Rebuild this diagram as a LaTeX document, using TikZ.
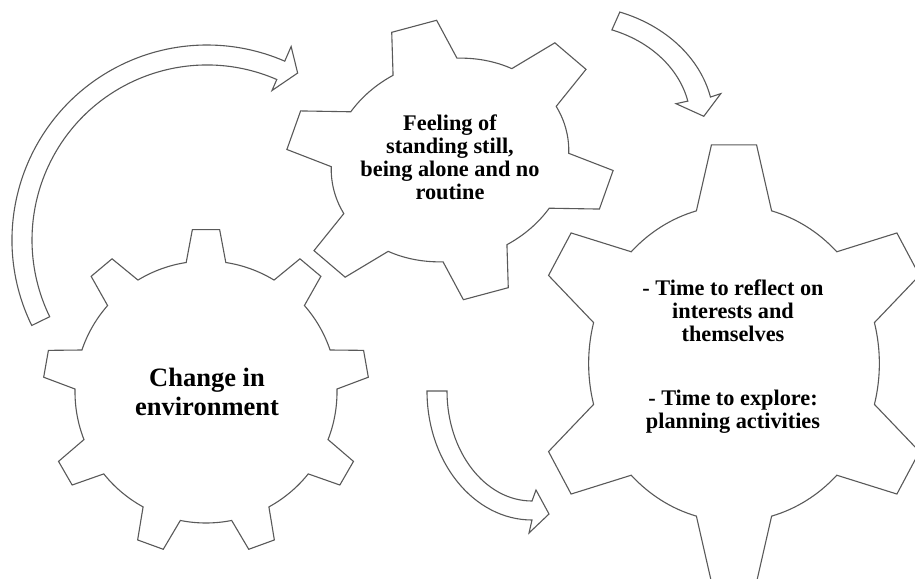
\documentclass[tikz,border=0pt]{standalone}
\usepackage{fontspec}
\setmainfont{Liberation Serif}
\usepackage{tikz}

% cog outline: teeth, root radius, tip radius, half-angle at root, half-angle at tip
\newcommand{\cog}[5]{
  ({90-#4}:#2)
  \foreach \tooth [evaluate=\tooth as \ang using 90+(\tooth-1)*360/#1] in {1,...,#1} {
    -- ({\ang-#5}:#3) -- ({\ang+#5}:#3) -- ({\ang+#4}:#2)
    arc[start angle={\ang+#4}, end angle={\ang+360/#1-#4}, radius=#2]
  } -- cycle
}

\begin{document}
\begin{tikzpicture}[
    x=1pt, y=1pt,
    gearline/.style={draw=black!65, line width=1.1pt, fill=white},
    bendarrow/.style={draw=black!65, line width=1.1pt, fill=white},
    gearlabel/.style={align=center, inner sep=0pt,
      font=\bfseries\fontsize{22.3}{23}\selectfont}
]
\useasboundingbox (0,0) rectangle (915,578);
\clip (0,0) rectangle (915,578);

% gears
\draw[gearline, shift={(206,186)}] \cog{9}{131}{163}{8.7}{4.8};
\draw[gearline, shift={(450,418)}, rotate=15, yscale=0.837] \cog{6}{120}{167}{16}{8};
\draw[gearline, shift={(734,214.5)}, xscale=0.92] \cog{6}{158}{220}{15}{6.4};

% labels
\node[gearlabel, font=\bfseries\fontsize{26.5}{28.5}\selectfont] (change) at (207,186)
  {Change in\\environment};
\node[gearlabel] (feeling) at (450,421)
  {Feeling of\\standing still,\\being alone and no\\routine};
\node[gearlabel] (time) at (733,221)
  {- Time to reflect on\\interests and\\themselves\\[41pt]- Time to explore:\\planning activities};

% bent arrows
\draw[bendarrow, shift={(207,338)}]
  (206:195) arc[start angle=206, end angle=66.5, radius=195]
  -- (66.5:211) -- (61.5:190) -- (66.5:163) -- (66.5:175)
  arc[start angle=66.5, end angle=206, radius=175] -- cycle;
\draw[bendarrow, shift={(571,456)}, xscale=1.22]
  (70:117) arc[start angle=70, end angle=12.3, radius=117]
  -- (13:126) -- (3:109) -- (12:88) -- (12.3:98)
  arc[start angle=12.3, end angle=70, radius=98] -- cycle;
\draw[bendarrow, shift={(532,187)}]
  (-105,0) arc[start angle=180, end angle=270, x radius=105, y radius=129]
  -- (-3,-142) -- (17,-123) -- (4,-99) -- (0,-110)
  arc[start angle=270, end angle=180, x radius=85, y radius=110] -- cycle;
\end{tikzpicture}
\end{document}
